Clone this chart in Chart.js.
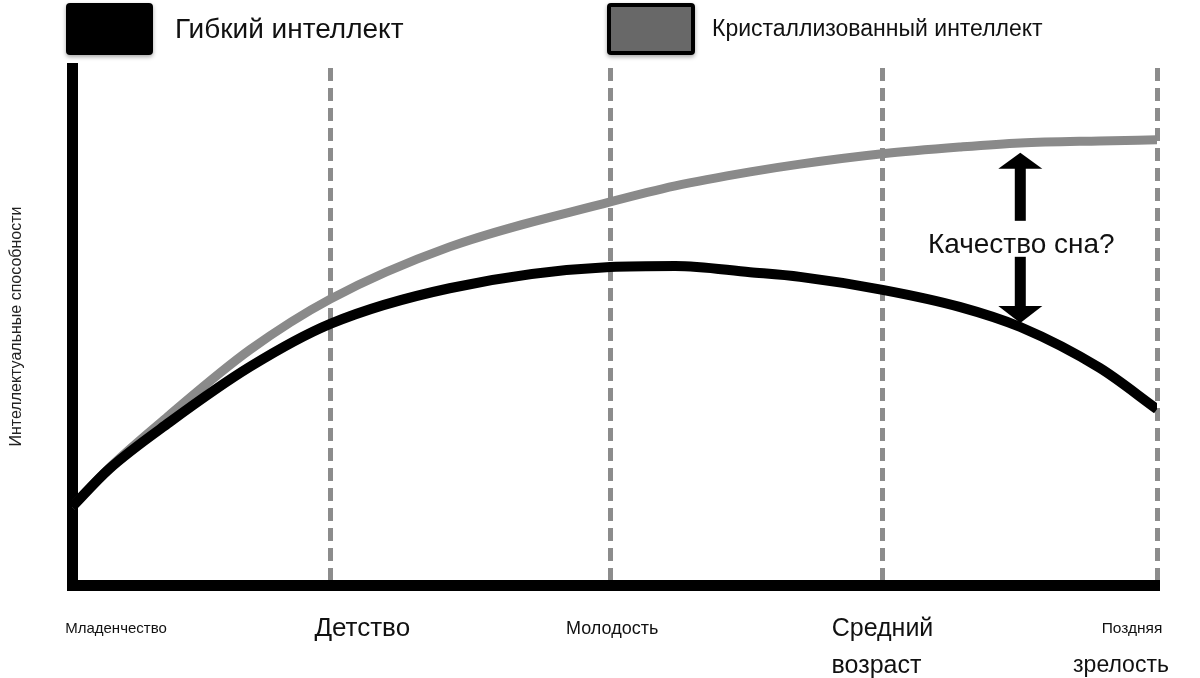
<!DOCTYPE html>
<html lang="ru">
<head>
    <meta charset="UTF-8">
    <title>Гибкий и кристаллизованный интеллект</title>
    <script src="https://cdn.jsdelivr.net/npm/chart.js"></script>
    <style>
        html, body { margin: 0; padding: 0; background: #ffffff; }
        #wrap { width: 1200px; height: 678px; }
    </style>
</head>
<body>
<div id="wrap"><canvas id="myChart"></canvas></div>
<script>
// Данные (ось X: 0..100 — условная шкала жизни, ось Y: 0..100 — условные способности)
const stages = [['Младенчество'], ['Детство'], ['Молодость'], ['Средний', 'возраст'], ['Поздняя', 'зрелость']];
const stagePos = [0, 23.8, 49.6, 74.7, 100];
const agePoints = [0, 3.4, 9.0, 16.4, 23.8, 34.8, 49.6, 55.6, 62.5, 67.1, 74.7, 81.8, 87.4, 94.7, 100];
const fluid = [15.1, 22.4, 31.5, 42.2, 50.5, 57.4, 61.5, 61.7, 60.5, 59.6, 57.1, 53.8, 49.9, 42.0, 34.0];
const crystallized = [15.1, 22.6, 32.9, 45.5, 55.3, 65.4, 74.1, 77.2, 79.9, 81.4, 83.4, 84.7, 85.5, 85.9, 86.1];
const seriesNames = ['Гибкий интеллект', 'Кристаллизованный интеллект'];
const yTitle = 'Интеллектуальные способности';
const noteText = 'Качество сна?';
const noteAge = 87.4;
const noteUp = 83.6;
const noteMid = 65.8;
const noteDown = 50.7;

const FONT = '"Liberation Sans", Arial, sans-serif';

function toPoints(vals) {
    return agePoints.map((a, i) => ({ x: a, y: vals[i] }));
}

// легенда сверху
const legendPlugin = {
    id: 'topLegend',
    afterDraw(chart) {
        const ctx = chart.ctx;
        ctx.save();
        ctx.shadowColor = 'rgba(0,0,0,0.35)';
        ctx.shadowBlur = 4;
        ctx.shadowOffsetY = 2;
        ctx.fillStyle = '#000';
        ctx.beginPath();
        ctx.roundRect(66, 3, 87, 52, 4);
        ctx.fill();
        ctx.beginPath();
        ctx.roundRect(607, 3, 88, 52, 4);
        ctx.fill();
        ctx.shadowColor = 'transparent';
        ctx.fillStyle = '#686868';
        ctx.fillRect(611, 7, 80, 44);
        ctx.fillStyle = '#111';
        ctx.textBaseline = 'middle';
        ctx.textAlign = 'left';
        ctx.font = '28px ' + FONT;
        ctx.fillText(seriesNames[0], 175, 30);
        ctx.font = '23px ' + FONT;
        ctx.fillText(seriesNames[1], 712, 30);
        ctx.restore();
    }
};

// подписи этапов под осью
const stageLabels = {
    id: 'stageLabels',
    afterDraw(chart) {
        const ctx = chart.ctx;
        const x = chart.scales.x;
        const sizes = [[15], [26], [18], [25, 25], [15.5, 23]];
        const dx = [[44], [32], [2], [0, -6], [-25, -36]];
        const rows = [629, 666];
        ctx.save();
        ctx.fillStyle = '#111';
        ctx.textAlign = 'center';
        ctx.textBaseline = 'middle';
        stages.forEach((lines, i) => {
            const px = x.getPixelForValue(stagePos[i]);
            lines.forEach((t, j) => {
                ctx.font = sizes[i][j] + 'px ' + FONT;
                ctx.fillText(t, px + dx[i][j], rows[j]);
            });
        });
        ctx.restore();
    }
};

// стрелки и вопрос
const notePlugin = {
    id: 'sleepNote',
    afterDatasetsDraw(chart) {
        const ctx = chart.ctx;
        const { x, y } = chart.scales;
        const cx = x.getPixelForValue(noteAge);
        const up = y.getPixelForValue(noteUp);
        const mid = y.getPixelForValue(noteMid);
        const down = y.getPixelForValue(noteDown);
        ctx.save();
        ctx.fillStyle = '#000';
        // вверх
        ctx.fillRect(cx - 5.5, up + 15, 11, mid - 24 - (up + 15));
        ctx.beginPath();
        ctx.moveTo(cx, up);
        ctx.lineTo(cx + 22, up + 16);
        ctx.lineTo(cx - 22, up + 16);
        ctx.closePath();
        ctx.fill();
        // вниз
        ctx.fillRect(cx - 5.5, mid + 12, 11, down - 16 - (mid + 12));
        ctx.beginPath();
        ctx.moveTo(cx, down);
        ctx.lineTo(cx + 22, down - 17);
        ctx.lineTo(cx - 22, down - 17);
        ctx.closePath();
        ctx.fill();
        ctx.font = '28px ' + FONT;
        ctx.fillStyle = '#111';
        ctx.textAlign = 'center';
        ctx.textBaseline = 'middle';
        ctx.fillText(noteText, cx + 1, mid);
        ctx.restore();
    }
};

const ctx = document.getElementById('myChart').getContext('2d');
new Chart(ctx, {
    type: 'line',
    data: {
        datasets: [{
            label: seriesNames[0],
            data: toPoints(fluid),
            borderColor: '#000000',
            borderWidth: 10,
            pointRadius: 0,
            cubicInterpolationMode: 'monotone',
            fill: false
        }, {
            label: seriesNames[1],
            data: toPoints(crystallized),
            borderColor: '#8a8a8a',
            borderWidth: 9,
            pointRadius: 0,
            cubicInterpolationMode: 'monotone',
            fill: false
        }]
    },
    options: {
        responsive: true,
        maintainAspectRatio: false,
        animation: false,
        layout: { padding: { top: 68, right: 43, left: 0, bottom: 0 } },
        plugins: {
            legend: { display: false },
            tooltip: { enabled: false }
        },
        scales: {
            x: {
                type: 'linear',
                min: 0,
                max: 100,
                afterBuildTicks: (scale) => { scale.ticks = stagePos.map(v => ({ value: v })); },
                afterFit: (scale) => { scale.height = 93; },
                ticks: { display: false },
                grid: {
                    color: (c) => c.index === 0 ? 'rgba(0,0,0,0)' : '#8c8c8c',
                    lineWidth: 5,
                    drawTicks: false
                },
                border: { color: '#000000', width: 11, dash: [13, 7] }
            },
            y: {
                min: 0,
                max: 100,
                afterFit: (scale) => { scale.width = 72; },
                ticks: { display: false },
                grid: { display: false, drawTicks: false },
                border: { color: '#000000', width: 11 },
                title: {
                    display: true,
                    text: yTitle,
                    color: '#222',
                    font: { family: FONT, size: 16 },
                    padding: { top: 7, bottom: 0 }
                }
            }
        }
    },
    plugins: [legendPlugin, stageLabels, notePlugin]
});
</script>
</body>
</html>
